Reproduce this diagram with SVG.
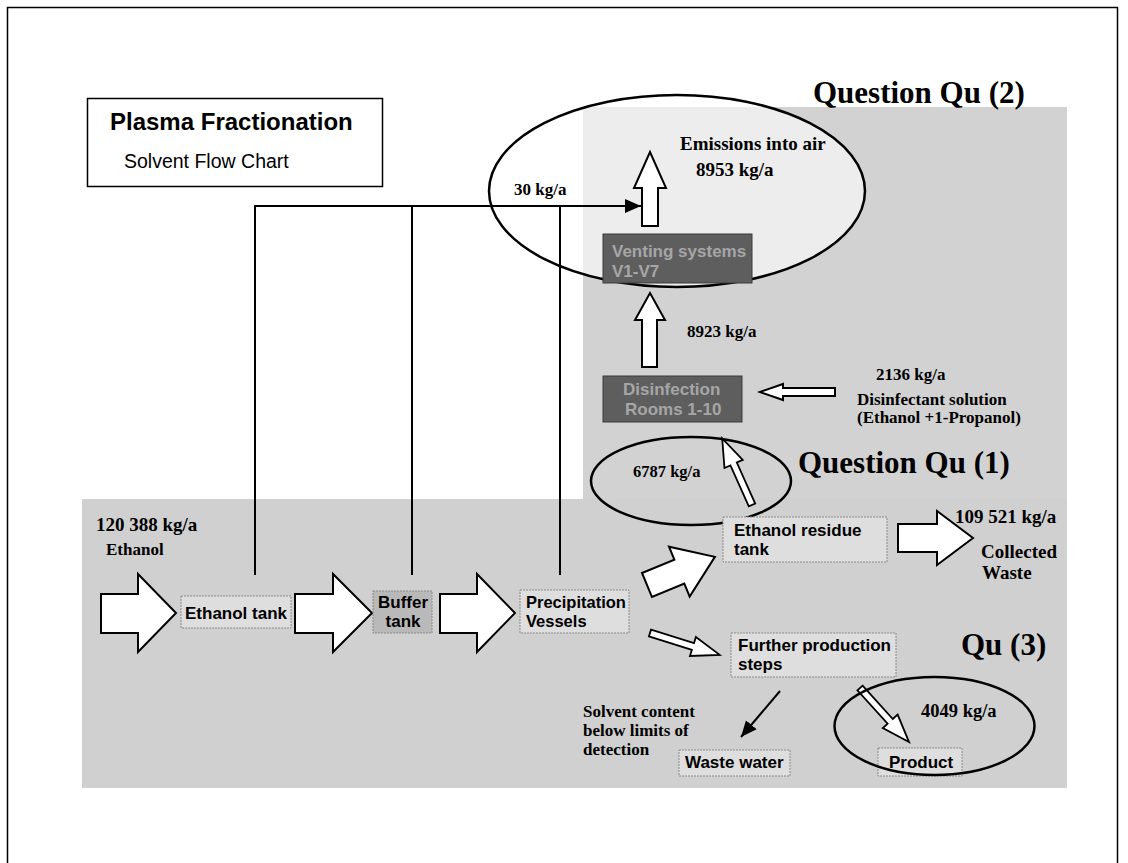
<svg xmlns="http://www.w3.org/2000/svg" width="1128" height="863" viewBox="0 0 1128 863">
<style>
.sans{font-family:"Liberation Sans",Arial,sans-serif;font-weight:bold;font-size:17px;fill:#000}
.serif{font-family:"Liberation Serif","Times New Roman",serif;font-weight:bold;fill:#000}
.q{font-size:31px}
.lbl{font-size:17px}
.big{font-size:19px}
.box{fill:#dedede;stroke:#8a8a8a;stroke-width:1;stroke-dasharray:2 1}
.dark{fill:#5e5e5e;stroke:#3a3a3a;stroke-width:1}
.darktxt{font-family:"Liberation Sans",Arial,sans-serif;font-weight:bold;font-size:17px;fill:#a6a6a6}
.harrow{fill:#fff;stroke:#000;stroke-width:2;stroke-linejoin:miter}
.tarrow{fill:#fff;stroke:#000;stroke-width:1.8}
.line{fill:none;stroke:#000;stroke-width:2}
.ell{fill:none;stroke:#000;stroke-width:2.5}
</style>
<defs>
<marker id="blk" markerUnits="userSpaceOnUse" markerWidth="18" markerHeight="16" refX="16" refY="7" orient="auto">
<path d="M0,0 L16,7 L0,14 Z" fill="#000"/>
</marker>
</defs>
<rect x="0" y="0" width="1128" height="863" fill="#fff"/>
<g id="frame"><rect x="7.5" y="7.5" width="1110" height="880" fill="none" stroke="#000" stroke-width="1.5"/></g>
<g id="background">
<rect x="583" y="107" width="484" height="392" fill="#d2d2d2"/>
<rect x="82" y="499" width="985" height="289" fill="#d0d0d0"/>
</g>
<g id="title">
<rect x="87.5" y="98.5" width="295" height="88" fill="#fff" stroke="#000" stroke-width="1.5"/>
<text class="sans" x="110" y="130" style="font-size:24px">Plasma Fractionation</text>
<text x="124" y="168" style="font-family:'Liberation Sans',Arial,sans-serif;font-size:19.5px">Solvent Flow Chart</text>
</g>
<g id="emissions-ellipse">
<ellipse cx="677" cy="191" rx="188" ry="96" fill="#fff" fill-opacity="0.6" stroke="none"/>
<ellipse class="ell" cx="677" cy="191" rx="188" ry="96"/>
<text class="serif big" x="680" y="150">Emissions into air</text>
<text class="serif big" x="696" y="176">8953 kg/a</text>
</g>
<g id="q2"><text class="serif q" x="813" y="103">Question Qu (2)</text></g>
<g id="connectors">
<path class="line" d="M255,575 V206 H641" marker-end="url(#blk)"/>
<line class="line" x1="412" y1="206" x2="412" y2="575"/>
<line class="line" x1="560" y1="206" x2="560" y2="575"/>
<text class="serif lbl" x="514" y="195">30 kg/a</text>
<path class="harrow" d="M642,226 V188 H634 L650,152 L666,188 H658 V226 Z"/>
<path class="harrow" d="M642,367 V320 H635 L650,293 L665,320 H657 V367 Z"/>
<text class="serif lbl" x="687" y="337">8923 kg/a</text>
<path class="harrow" d="M835,388 H783 V384 L760,392 L783,400 V396 H835 Z"/>
<path class="harrow" d="M101,594 H138 V574 L176,613 L138,652 V633 H101 Z"/>
<path class="harrow" d="M295,594 H333 V574 L372,613 L333,652 V633 H295 Z"/>
<path class="harrow" d="M440,594 H477 V574 L515,613 L477,652 V633 H440 Z"/>
<path class="harrow" d="M0,-13 H35 V-27 L73.5,0 L35,27 V13 H0 Z" transform="translate(647,585) rotate(-22.5)"/>
<path class="harrow" d="M898,524 H937 V511 L973,538 L937,565 V552 H898 Z"/>
<path class="tarrow" d="M0,-3.5 H45 V-10 L73,0 L45,10 V3.5 H0 Z" transform="translate(650,633) rotate(17.4)"/>
<path class="tarrow" d="M0,-3.5 H45 V-10 L73,0 L45,10 V3.5 H0 Z" transform="translate(752,505) rotate(-114.1)"/>
<path class="tarrow" d="M0,-3.5 H45 V-10 L73,0 L45,10 V3.5 H0 Z" transform="translate(860,688) rotate(47.8)"/>
<line x1="780" y1="691" x2="741" y2="737" stroke="#000" stroke-width="2" marker-end="url(#blk)"/>
</g>
<g id="venting">
<rect class="dark" x="603" y="234" width="149" height="49"/>
<text class="darktxt" x="612" y="257">Venting systems</text>
<text class="darktxt" x="612" y="277">V1-V7</text>
</g>
<g id="disinfection">
<rect class="dark" x="603" y="376" width="139" height="46"/>
<text class="darktxt" x="623" y="395">Disinfection</text>
<text class="darktxt" x="625" y="415">Rooms 1-10</text>
</g>
<g id="disinfectant">
<text class="serif lbl" x="876" y="380">2136 kg/a</text>
<text class="serif lbl" x="857" y="405">Disinfectant solution</text>
<text class="serif lbl" x="857" y="423">(Ethanol +1-Propanol)</text>
</g>
<g id="q1-ellipse">
<ellipse class="ell" cx="691" cy="481" rx="100" ry="44"/>
<text class="serif" x="633" y="477" style="font-size:16.5px">6787 kg/a</text>
</g>
<g id="q1"><text class="serif q" x="798" y="473">Question Qu (1)</text></g>
<g id="ethanol-in">
<text class="serif big" x="96" y="531">120 388 kg/a</text>
<text class="serif lbl" x="106" y="555">Ethanol</text>
</g>
<g id="ethanol-tank">
<rect class="box" x="181" y="596" width="110" height="32"/>
<text class="sans" x="185" y="619">Ethanol tank</text>
</g>
<g id="buffer-tank">
<rect class="box" x="373" y="591" width="59" height="42" style="fill:#b9b9b9"/>
<text class="sans" x="403" y="608" text-anchor="middle">Buffer</text>
<text class="sans" x="403" y="627" text-anchor="middle">tank</text>
</g>
<g id="precipitation">
<rect class="box" x="520" y="590" width="109" height="43"/>
<text class="sans" x="526" y="608" style="font-size:16.5px">Precipitation</text>
<text class="sans" x="526" y="627" style="font-size:16.5px">Vessels</text>
</g>
<g id="residue-tank">
<rect class="box" x="723" y="517" width="164" height="45"/>
<text class="sans" x="734" y="536">Ethanol residue</text>
<text class="sans" x="734" y="555">tank</text>
</g>
<g id="collected-waste">
<text class="serif big" x="955" y="523">109 521 kg/a</text>
<text class="serif big" x="981" y="558">Collected</text>
<text class="serif big" x="982" y="579">Waste</text>
</g>
<g id="further-production">
<rect class="box" x="731" y="633" width="165" height="44"/>
<text class="sans" x="738" y="651">Further production</text>
<text class="sans" x="738" y="670">steps</text>
</g>
<g id="q3"><text class="serif q" x="961" y="655">Qu (3)</text></g>
<g id="solvent-note">
<text class="serif lbl" x="583" y="717">Solvent content</text>
<text class="serif lbl" x="583" y="736">below limits of</text>
<text class="serif lbl" x="583" y="755">detection</text>
</g>
<g id="waste-water">
<rect class="box" x="679" y="750" width="111" height="26"/>
<text class="sans" x="685" y="768">Waste water</text>
</g>
<g id="product">
<rect class="box" x="878" y="748" width="84" height="28"/>
<text class="sans" x="889" y="768">Product</text>
</g>
<g id="q3-ellipse">
<ellipse class="ell" cx="934.5" cy="726" rx="100" ry="49"/>
<text class="serif" x="921" y="717" style="font-size:18.5px">4049 kg/a</text>
</g>
</svg>
